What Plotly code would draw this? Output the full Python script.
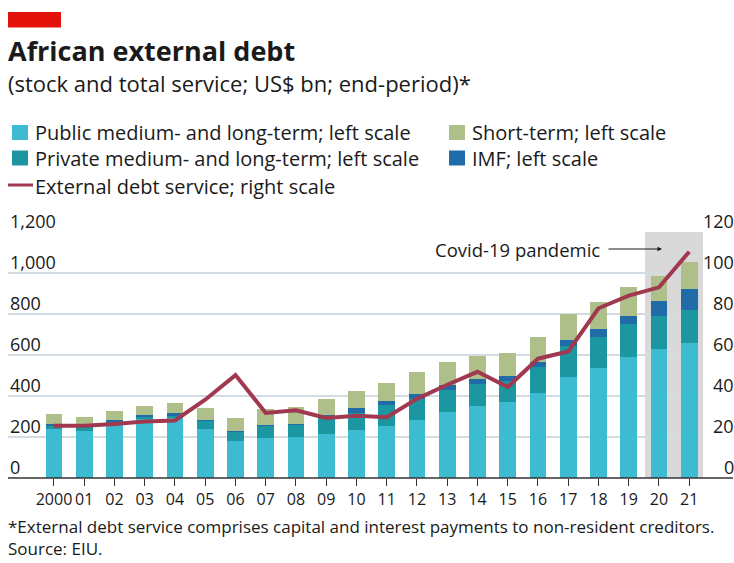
import plotly.graph_objects as go

# ---- data (US$ bn) ----
years = list(range(2000, 2022))
year_labels = ["2000"] + [f"{y % 100:02d}" for y in years[1:]]
public_mlt = [240, 228, 268, 290, 295, 240, 180, 196, 200, 216, 233, 255, 285, 322, 349, 369, 415, 492, 536, 590, 629, 658]
private_mlt = [15, 22, 7, 6, 8, 40, 45, 60, 62, 80, 84, 99, 100, 109, 109, 102, 126, 154, 154, 162, 162, 162]
imf = [8, 8, 8, 10, 15, 5, 3, 4, 3, 12, 24, 20, 26, 24, 26, 28, 27, 28, 36, 39, 73, 102]
short_term = [48, 42, 45, 46, 50, 55, 65, 78, 81, 77, 81, 89, 106, 110, 109, 113, 119, 125, 131, 139, 123, 133]
debt_service = [25.5, 25.5, 26.4, 27.6, 28.1, 38.2, 50.2, 31.7, 33.0, 29.3, 30.4, 29.6, 38.6, 45.5, 51.8, 44.4,
                58.2, 61.7, 82.8, 89.0, 93.0, 110.4]
left_ticks = [0, 200, 400, 600, 800, 1000, 1200]
right_ticks = [0, 20, 40, 60, 80, 100, 120]

C_PUBLIC = "#3dbbd1"
C_PRIVATE = "#1c97a1"
C_IMF = "#1f6ca8"
C_SHORT = "#aebf8a"
C_LINE = "#a0394f"
C_GRID = "#d3dce3"
C_TEXT = "#1a1a1a"
FONT = "Open Sans"

W, H = 734, 563
ML, MR, MT, MB = 8, 31, 232, 85
PW, PH = W - ML - MR, H - MT - MB


def px(x):
    return (x - ML) / PW


def py(y):
    return (H - MB - y) / PH


fig = go.Figure()
for name, vals, col in [
    ("Public medium- and long-term; left scale", public_mlt, C_PUBLIC),
    ("Private medium- and long-term; left scale", private_mlt, C_PRIVATE),
    ("IMF; left scale", imf, C_IMF),
    ("Short-term; left scale", short_term, C_SHORT),
]:
    fig.add_trace(go.Bar(x=years, y=vals, name=name, marker=dict(color=col, line=dict(width=0)),
                         width=0.56, yaxis="y"))

fig.add_trace(go.Scatter(x=years, y=debt_service, mode="lines", name="External debt service; right scale",
                         line=dict(color=C_LINE, width=4), yaxis="y2"))

shapes = [
    # Covid-19 period shading
    dict(type="rect", xref="x", yref="paper", x0=2019.54, x1=2021.455, y0=0, y1=1,
         fillcolor="#d9d9d9", line=dict(width=0), layer="below"),
    # baseline
    dict(type="line", xref="paper", yref="paper", x0=0, x1=px(733), y0=0, y1=0,
         line=dict(color="#333333", width=1.5)),
    # header red tag
    dict(type="rect", xref="paper", yref="paper", x0=px(8), x1=px(61), y0=py(12), y1=py(27.5),
         fillcolor="#e3120b", line=dict(width=0)),
]

annotations = []


def text(x, y, s, size, anchor="left", bold=False, color=C_TEXT, yanchor="middle"):
    annotations.append(dict(xref="paper", yref="paper", x=px(x), y=py(y), text=f"<b>{s}</b>" if bold else s,
                            showarrow=False, xanchor=anchor, yanchor=yanchor, align="left",
                            font=dict(family=FONT, size=size, color=color)))


text(6, 51, "African external debt", 27, bold=True)
text(6, 83.5, "(stock and total service; US$ bn; end-period)*", 22)

# legend
legend_rows = [
    (12, 132.5, C_PUBLIC, "Public medium- and long-term; left scale"),
    (12, 158, C_PRIVATE, "Private medium- and long-term; left scale"),
    (449, 132.5, C_SHORT, "Short-term; left scale"),
    (449, 158, C_IMF, "IMF; left scale"),
]
for x0, yc, col, label in legend_rows:
    shapes.append(dict(type="rect", xref="paper", yref="paper", x0=px(x0), x1=px(x0 + 16),
                       y0=py(yc + 7.5), y1=py(yc - 7.5), fillcolor=col, line=dict(width=0)))
    text(x0 + 21, yc, label, 20)
shapes.append(dict(type="line", xref="paper", yref="paper", x0=px(8), x1=px(33), y0=py(185), y1=py(185),
                   line=dict(color=C_LINE, width=3)))
text(33, 186.5, "External debt service; right scale", 20)

# axis labels sitting on the gridlines
for v in left_ticks:
    annotations.append(dict(xref="paper", yref="y", x=0, y=v, text=f"{v:,}", showarrow=False,
                            xanchor="left", yanchor="bottom", yshift=-3,
                            font=dict(family=FONT, size=18, color=C_TEXT)))
for v in right_ticks:
    annotations.append(dict(xref="paper", yref="y2", x=px(736), y=v, text=f"{v}", showarrow=False,
                            xanchor="right", yanchor="bottom", yshift=-3,
                            font=dict(family=FONT, size=18, color=C_TEXT)))

# Covid-19 callout
annotations.append(dict(xref="x", yref="y", x=2018.13, y=1117, text="Covid-19 pandemic", showarrow=False,
                        xanchor="right", yanchor="middle", font=dict(family=FONT, size=18.5, color=C_TEXT)))
annotations.append(dict(xref="x", yref="y", x=2020.1, y=1117, text="", showarrow=True, ax=-55, ay=0,
                        arrowhead=2, arrowsize=0.9, arrowwidth=1, arrowcolor=C_TEXT))

# footnotes
text(6, 562,
     "*External debt service comprises capital and interest payments to non-resident creditors.<br>Source: EIU.",
     17, yanchor="bottom")

fig.update_layout(
    width=W, height=H, margin=dict(l=ML, r=MR, t=MT, b=MB),
    paper_bgcolor="white", plot_bgcolor="white",
    barmode="stack", bargap=0, showlegend=False,
    font=dict(family=FONT, color=C_TEXT),
    xaxis=dict(range=[1998.48, 2021.455], tickmode="array", tickvals=years, ticktext=year_labels,
               tickangle=0, ticks="outside", ticklen=7, tickwidth=1, tickcolor="#333333", showgrid=False,
               showline=False, zeroline=False, tickfont=dict(family=FONT, size=16, color=C_TEXT)),
    yaxis=dict(range=[0, 1200], tickvals=left_ticks, showticklabels=False, showgrid=True,
               gridcolor=C_GRID, gridwidth=1.5, zeroline=False, showline=False),
    yaxis2=dict(range=[0, 120], overlaying="y", side="right", showticklabels=False, showgrid=False,
                zeroline=False, showline=False),
    shapes=shapes, annotations=annotations,
)

fig.write_html("out.html")
